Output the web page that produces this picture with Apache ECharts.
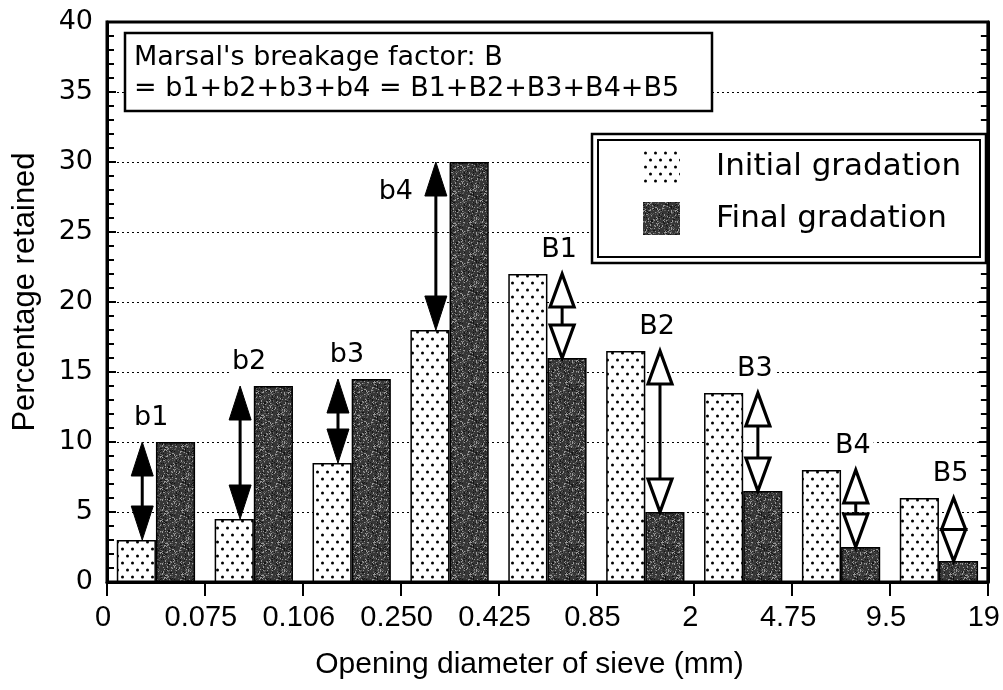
<!DOCTYPE html>
<html>
<head>
<meta charset="utf-8">
<title>Particle breakage – gradation before and after</title>
<script src="https://cdn.jsdelivr.net/npm/echarts@6/dist/echarts.min.js"></script>
<style>
  html, body { margin: 0; padding: 0; background: #fff; }
  #chart { width: 1003px; height: 690px; }
</style>
</head>
<body>
<div id="chart"></div>
<script>
// Sieve openings (mm) bounding each size fraction
const sieveSizes = ['0', '0.075', '0.106', '0.250', '0.425', '0.85', '2', '4.75', '9.5', '19'];
// Size fractions (between consecutive sieves)
const fractions = ['0-0.075', '0.075-0.106', '0.106-0.250', '0.250-0.425', '0.425-0.85',
                   '0.85-2', '2-4.75', '4.75-9.5', '9.5-19'];
// Percentage retained in each fraction
const initialGradation = [3.0, 4.5, 8.5, 18.0, 22.0, 16.5, 13.5, 8.0, 6.0];
const finalGradation   = [10.0, 14.0, 14.5, 30.0, 16.0, 5.0, 6.5, 2.5, 1.5];
// Breakage components: gains (b) and losses (B)
const breakageLabels = ['b1', 'b2', 'b3', 'b4', 'B1', 'B2', 'B3', 'B4', 'B5'];

const SANS = '"DejaVu Sans", "Liberation Sans", sans-serif';
const HELV = '"Liberation Sans", Arial, sans-serif';

// Fill textures for the two gradations
function dottedTexture() {
  const c = document.createElement('canvas');
  c.width = 10; c.height = 14;
  const g = c.getContext('2d');
  g.fillStyle = '#fff'; g.fillRect(0, 0, 10, 14);
  g.fillStyle = '#000';
  g.beginPath(); g.arc(2.5, 3, 1.5, 0, Math.PI * 2); g.fill();
  g.beginPath(); g.arc(7.5, 10, 1.5, 0, Math.PI * 2); g.fill();
  return c;
}
function grainTexture() {
  const n = 32;
  const c = document.createElement('canvas');
  c.width = n; c.height = n;
  const g = c.getContext('2d');
  g.fillStyle = '#363636'; g.fillRect(0, 0, n, n);
  let s = 2463534242;
  for (let y = 0; y < n; y++) {
    for (let x = 0; x < n; x++) {
      s = (Math.imul(s, 1103515245) + 12345) >>> 0;
      const r = (s >>> 16) % 100;
      if (r < 9) { g.fillStyle = '#9a9a9a'; g.fillRect(x, y, 1, 1); }
      else if (r < 24) { g.fillStyle = '#5e5e5e'; g.fillRect(x, y, 1, 1); }
      else if (r > 90) { g.fillStyle = '#141414'; g.fillRect(x, y, 1, 1); }
    }
  }
  return c;
}

const dotFill = { image: dottedTexture(), repeat: 'repeat' };
const grainFill = { image: grainTexture(), repeat: 'repeat' };

// Labels placed beside the arrow instead of above it
const sideLabels = { b4: true };

// Double-headed arrow between the initial and final height of a fraction
function renderBreakageArrow(params, api) {
  const i = api.value(0);
  const vInit = api.value(1);
  const vFinal = api.value(2);
  const name = breakageLabels[params.dataIndex];
  const gain = name[0] === 'b';
  const band = api.size([1, 0])[0];
  const cx = api.coord([i, 0])[0] + (gain ? -0.14 : 0.15) * band;
  const yTop = api.coord([i, Math.max(vInit, vFinal)])[1];
  const yBot = api.coord([i, Math.min(vInit, vFinal)])[1];
  const span = yBot - yTop;
  const hl = gain ? Math.min(34, span / 2 - 5) : Math.min(33, span / 2);
  const hw = gain ? 11 : 12;
  const headStyle = gain
    ? { fill: '#000', stroke: '#000', lineWidth: 1 }
    : { fill: '#fff', stroke: '#000', lineWidth: 3.2, lineJoin: 'miter' };
  const children = [];
  if (yBot - hl > yTop + hl) {
    children.push({
      type: 'line',
      shape: { x1: cx, y1: yTop + hl, x2: cx, y2: yBot - hl },
      style: { stroke: '#000', lineWidth: 3 }
    });
  }
  children.push({
    type: 'polygon',
    shape: { points: [[cx, yTop], [cx - hw, yTop + hl], [cx + hw, yTop + hl]] },
    style: headStyle
  });
  children.push({
    type: 'polygon',
    shape: { points: [[cx, yBot], [cx - hw, yBot - hl], [cx + hw, yBot - hl]] },
    style: headStyle
  });
  let lx, ly;
  if (sideLabels[name]) {
    lx = cx - 40; ly = yTop + 30;
  } else {
    lx = cx + (gain ? 9 : -3); ly = yTop - 24;
  }
  children.push({
    type: 'text',
    style: {
      text: name, x: lx, y: ly, align: 'center', verticalAlign: 'middle',
      font: '27px ' + SANS, fill: '#000',
      backgroundColor: '#fff', padding: [1, 3]
    }
  });
  return { type: 'group', children: children };
}

const chart = echarts.init(document.getElementById('chart'), null, { renderer: 'canvas' });

chart.setOption({
  animation: false,
  backgroundColor: '#fff',
  grid: {
    left: 107, right: 11, top: 22, bottom: 108,
    show: true, borderColor: '#000', borderWidth: 3, backgroundColor: 'transparent'
  },
  legend: {
    orient: 'vertical',
    left: 643, top: 150, padding: 0,
    itemWidth: 37, itemHeight: 33, itemGap: 19,
    icon: 'rect',
    itemStyle: { borderWidth: 0 },
    textStyle: { fontFamily: SANS, fontSize: 31, color: '#000', padding: [0, 0, 0, 31], lineHeight: 33 },
    data: ['Initial gradation', 'Final gradation'],
    z: 12
  },
  xAxis: [
    { type: 'category', data: fractions, show: false },
    {
      type: 'value', min: 0, max: 9, interval: 1, position: 'bottom',
      axisLine: { show: true, onZero: false, lineStyle: { color: '#000', width: 3 } },
      axisTick: { show: true, length: 14, lineStyle: { color: '#000', width: 2 } },
      axisLabel: {
        formatter: v => sieveSizes[Math.round(v)],
        fontFamily: HELV, fontSize: 29, color: '#000', margin: 21, padding: [0, 8, 0, 0]
      },
      splitLine: { show: false },
      name: 'Opening diameter of sieve (mm)',
      nameLocation: 'middle', nameGap: 68,
      nameTextStyle: { fontFamily: HELV, fontSize: 30, color: '#000', padding: [0, 36, 0, 0] }
    }
  ],
  yAxis: [
    {
      type: 'value', min: 0, max: 40, interval: 5, position: 'left',
      axisLine: { show: true, lineStyle: { color: '#000', width: 3 } },
      axisTick: { show: true, inside: true, length: 9, lineStyle: { color: '#000', width: 2 } },
      minorTick: { show: true, splitNumber: 5, length: 7, lineStyle: { color: '#000', width: 2 } },
      axisLabel: { fontFamily: SANS, fontSize: 27, color: '#000', margin: 14 },
      splitLine: { show: true, lineStyle: { type: [2, 3], color: '#000', width: 1 } },
      name: 'Percentage retained',
      nameLocation: 'middle', nameGap: 66, nameRotate: 90,
      nameTextStyle: { fontFamily: HELV, fontSize: 31, color: '#000', padding: [0, 0, 0, 20] }
    },
    {
      type: 'value', min: 0, max: 40, interval: 5, position: 'right',
      axisLine: { show: true, lineStyle: { color: '#000', width: 3 } },
      axisTick: { show: true, inside: true, length: 9, lineStyle: { color: '#000', width: 2 } },
      minorTick: { show: true, splitNumber: 5, length: 7, lineStyle: { color: '#000', width: 2 } },
      axisLabel: { show: false },
      splitLine: { show: false }
    }
  ],
  series: [
    {
      name: 'Initial gradation', type: 'bar', xAxisIndex: 0, yAxisIndex: 0,
      data: initialGradation, barGap: '0%', barCategoryGap: '20%',
      itemStyle: { color: dotFill, borderColor: '#000', borderWidth: 1.5 },
      silent: true
    },
    {
      name: 'Final gradation', type: 'bar', xAxisIndex: 0, yAxisIndex: 0,
      data: finalGradation, barGap: '0%', barCategoryGap: '20%',
      itemStyle: { color: grainFill, borderColor: '#000', borderWidth: 1.5 },
      silent: true
    },
    {
      type: 'custom', xAxisIndex: 0, yAxisIndex: 0, z: 5, silent: true,
      renderItem: renderBreakageArrow,
      encode: { x: 0, y: [1, 2] },
      data: breakageLabels.map((n, i) => [i, initialGradation[i], finalGradation[i]])
    }
  ],
  graphic: [
    {
      type: 'rect', z: 10, silent: true,
      shape: { x: 125, y: 33, width: 587, height: 78 },
      style: { fill: '#fff', stroke: '#000', lineWidth: 2.5 }
    },
    {
      type: 'text', z: 11, silent: true, left: 134, top: 42,
      style: {
        text: "Marsal's breakage factor: B\n= b1+b2+b3+b4 = B1+B2+B3+B4+B5",
        font: '27px ' + SANS, lineHeight: 31, fill: '#000'
      }
    },
    {
      type: 'rect', z: 10, silent: true,
      shape: { x: 592, y: 134, width: 394, height: 129 },
      style: { fill: '#fff', stroke: '#000', lineWidth: 2.5 }
    },
    {
      type: 'rect', z: 10, silent: true,
      shape: { x: 598, y: 140, width: 382, height: 117 },
      style: { fill: 'none', stroke: '#000', lineWidth: 2 }
    }
  ]
});
</script>
</body>
</html>
